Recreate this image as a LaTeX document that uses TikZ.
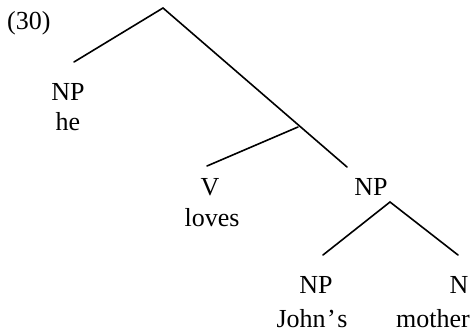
\documentclass[tikz,border=0pt]{standalone}
\usepackage{fontspec}
\setmainfont{Liberation Serif}
\begin{document}
\begin{tikzpicture}[x=1pt,y=-1pt,
  lbl/.style={font=\fontsize{26}{30}\selectfont, inner sep=0pt, anchor=base, text depth=0pt},
  edge/.style={line width=1.6pt, line cap=round}]
\useasboundingbox (0,0) rectangle (471,332);
% labels
\node[lbl, anchor=base west] (num) at (7,29) {(30)};
\node[lbl] (np1) at (68,100) {NP};
\node[lbl] (he) at (68,130) {he};
\node[lbl] (v) at (210,195) {V};
\node[lbl] (loves) at (212,226) {loves};
\node[lbl] (np2) at (371,195) {NP};
\node[lbl] (np3) at (316,293) {NP};
\node[lbl] (johns) at (312,327) {John\kern1.5pt’\kern1.5pt s};
\node[lbl] (n) at (459,293) {N};
\node[lbl] (mother) at (433,327) {mother};
% tree points
\coordinate (s) at (163,8);
\coordinate (vp) at (298,127);
\coordinate (np2top) at (390,202);
\coordinate (np1end) at (74,62);
\coordinate (vend) at (207,166);
\coordinate (np2end) at (347,167);
\coordinate (np3end) at (323,255);
\coordinate (nend) at (458,255);
% edges
\draw[edge] (np1end) -- (s) -- (np2end);
\draw[edge] (vp) -- (vend);
\draw[edge] (np3end) -- (np2top) -- (nend);
\end{tikzpicture}
\end{document}
